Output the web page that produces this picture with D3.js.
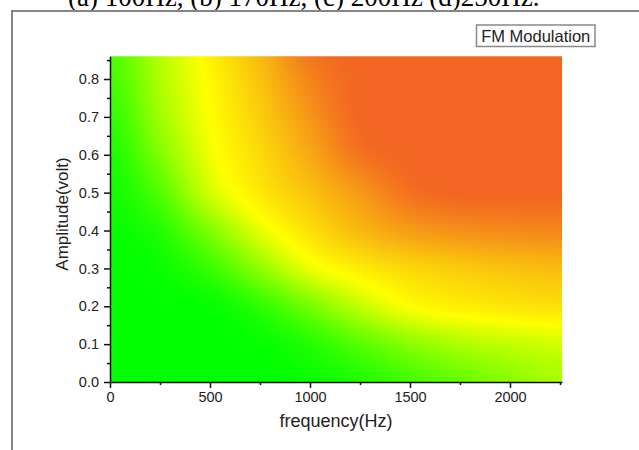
<!DOCTYPE html>
<html>
<head>
<meta charset="utf-8">
<script src="https://cdn.jsdelivr.net/npm/d3@7/dist/d3.min.js"></script>
<style>
  body { margin: 0; background: #fff; }
  svg { display: block; }
</style>
</head>
<body>
<div id="chart"></div>
<script>
// grid: 0 = green, 0.5 = yellow, 1 = orange
const freqs = [0, 250, 500, 750, 1000, 1250, 1500, 1750, 2000, 2250];
const amps = [0, 0.1, 0.2, 0.3, 0.4, 0.5, 0.6, 0.7, 0.8, 0.9];
const levels = [
  [0.00, 0.00, 0.00, 0.00, 0.02, 0.06, 0.13, 0.20, 0.27, 0.33],
  [0.00, 0.00, 0.00, 0.01, 0.07, 0.17, 0.27, 0.34, 0.38, 0.41],
  [0.00, 0.00, 0.01, 0.09, 0.23, 0.38, 0.50, 0.55, 0.58, 0.60],
  [0.00, 0.02, 0.11, 0.28, 0.46, 0.56, 0.63, 0.67, 0.70, 0.72],
  [0.01, 0.07, 0.25, 0.45, 0.60, 0.73, 0.82, 0.86, 0.88, 0.89],
  [0.03, 0.16, 0.41, 0.57, 0.70, 0.83, 0.96, 1.00, 1.00, 1.00],
  [0.05, 0.25, 0.47, 0.62, 0.78, 0.95, 1.00, 1.00, 1.00, 1.00],
  [0.09, 0.31, 0.50, 0.66, 0.84, 1.00, 1.00, 1.00, 1.00, 1.00],
  [0.13, 0.34, 0.52, 0.70, 0.90, 1.00, 1.00, 1.00, 1.00, 1.00],
  [0.15, 0.36, 0.55, 0.74, 0.96, 1.00, 1.00, 1.00, 1.00, 1.00]
];
const xTicks = [0, 500, 1000, 1500, 2000];
const xMinor = [250, 750, 1250, 1750, 2250];
const yTicks = [0, 0.1, 0.2, 0.3, 0.4, 0.5, 0.6, 0.7, 0.8];
const yMinor = [0.05, 0.15, 0.25, 0.35, 0.45, 0.55, 0.65, 0.75, 0.85];

const W = 639, H = 450;
const font = "'Liberation Sans', Arial, sans-serif";

const svg = d3.select("#chart").append("svg")
  .attr("width", W)
  .attr("height", H);

const x = d3.scaleLinear().domain([0, 2260]).range([110, 562]);
const y = d3.scaleLinear().domain([0, 0.86]).range([382, 56.3]);

const color = d3.scaleLinear()
  .domain([0, 0.5, 1])
  .range(["#00ff00", "#ffff00", "#f26522"])
  .clamp(true);

// caption cut off at the top, as in the source
svg.append("text")
  .attr("x", 68)
  .attr("y", 6)
  .style("font-family", "'Liberation Serif', 'Times New Roman', serif")
  .style("font-size", "27px")
  .style("fill", "#000")
  .text("(a) 100Hz, (b) 170Hz, (c) 200Hz (d)250Hz.");

// outer frame
svg.append("rect")
  .attr("x", 12)
  .attr("y", 11)
  .attr("width", 700)
  .attr("height", 500)
  .attr("fill", "none")
  .attr("stroke", "#858585")
  .attr("stroke-width", 2);

// smooth colour map: cubic (Catmull-Rom) between grid nodes, in value space
const nx = freqs.length, ny = amps.length;
const df = freqs[1] - freqs[0];
const da = amps[1] - amps[0];

function node(i, j) {
  i = Math.max(0, Math.min(ny - 1, i));
  j = Math.max(0, Math.min(nx - 1, j));
  return levels[i][j];
}
function cr(p0, p1, p2, p3, t) {
  return p1 + 0.5 * t * (p2 - p0 + t * (2 * p0 - 5 * p1 + 4 * p2 - p3 + t * (3 * (p1 - p2) + p3 - p0)));
}
function valueAt(f, a) {
  const gj = Math.max(0, Math.min(nx - 1, f / df));
  const gi = Math.max(0, Math.min(ny - 1, a / da));
  const j = Math.min(nx - 2, Math.floor(gj)), i = Math.min(ny - 2, Math.floor(gi));
  const tj = gj - j, ti = gi - i;
  const rows = [-1, 0, 1, 2].map(di =>
    cr(node(i + di, j - 1), node(i + di, j), node(i + di, j + 1), node(i + di, j + 2), tj));
  return cr(rows[0], rows[1], rows[2], rows[3], ti);
}

const px0 = Math.floor(x(0)), px1 = Math.ceil(x(2260));
const py0 = Math.floor(y(0.86)), py1 = Math.ceil(y(0));
const cw = px1 - px0, ch = py1 - py0;
const canvas = document.createElement("canvas");
canvas.width = cw;
canvas.height = ch;
const ctx = canvas.getContext("2d");
const img = ctx.createImageData(cw, ch);
for (let py = 0; py < ch; py++) {
  const a = y.invert(py0 + py + 0.5);
  for (let px = 0; px < cw; px++) {
    const f = x.invert(px0 + px + 0.5);
    const c = d3.rgb(color(valueAt(f, a)));
    const k = (py * cw + px) * 4;
    img.data[k] = c.r;
    img.data[k + 1] = c.g;
    img.data[k + 2] = c.b;
    img.data[k + 3] = 255;
  }
}
ctx.putImageData(img, 0, 0);

svg.append("clipPath").attr("id", "plot-clip")
  .append("rect")
  .attr("x", x(0))
  .attr("y", y(0.86))
  .attr("width", x(2260) - x(0))
  .attr("height", y(0) - y(0.86));

svg.append("g")
  .attr("clip-path", "url(#plot-clip)")
  .append("image")
  .attr("href", canvas.toDataURL())
  .attr("x", px0)
  .attr("y", py0)
  .attr("width", cw)
  .attr("height", ch)
  .attr("preserveAspectRatio", "none");

// axes
svg.append("g")
  .attr("transform", `translate(0,${y(0)})`)
  .call(d3.axisBottom(x).tickValues(xTicks).tickSize(6).tickSizeOuter(0).tickPadding(4)
    .tickFormat(d3.format("d")));
svg.append("g")
  .attr("transform", `translate(0,${y(0)})`)
  .call(d3.axisBottom(x).tickValues(xMinor).tickSize(3).tickSizeOuter(0).tickFormat(""))
  .select(".domain").remove();

svg.append("g")
  .attr("transform", `translate(${x(0)},0)`)
  .call(d3.axisLeft(y).tickValues(yTicks).tickSize(6).tickSizeOuter(0).tickPadding(5)
    .tickFormat(d3.format(".1f")));
svg.append("g")
  .attr("transform", `translate(${x(0)},0)`)
  .call(d3.axisLeft(y).tickValues(yMinor).tickSize(3).tickSizeOuter(0).tickFormat(""))
  .select(".domain").remove();

svg.selectAll(".domain, .tick line")
  .attr("stroke", "#111")
  .attr("stroke-width", 1.5);

svg.selectAll(".tick text")
  .style("font-family", font)
  .style("font-size", "14.5px")
  .style("fill", "#222");

// axis titles
svg.append("text")
  .attr("x", 336)
  .attr("y", 427)
  .attr("text-anchor", "middle")
  .style("font-family", font)
  .style("font-size", "18px")
  .style("fill", "#222")
  .text("frequency(Hz)");

svg.append("text")
  .attr("transform", "translate(68,214) rotate(-90)")
  .attr("text-anchor", "middle")
  .style("font-family", font)
  .style("font-size", "17px")
  .style("fill", "#222")
  .text("Amplitude(volt)");

// legend box
svg.append("rect")
  .attr("x", 476.5)
  .attr("y", 25)
  .attr("width", 118.5)
  .attr("height", 21.5)
  .attr("fill", "#fff")
  .attr("stroke", "#888")
  .attr("stroke-width", 1.5);

svg.append("text")
  .attr("x", 535.75)
  .attr("y", 41.5)
  .attr("text-anchor", "middle")
  .style("font-family", font)
  .style("font-size", "16.5px")
  .style("fill", "#222")
  .text("FM Modulation");
</script>
</body>
</html>
